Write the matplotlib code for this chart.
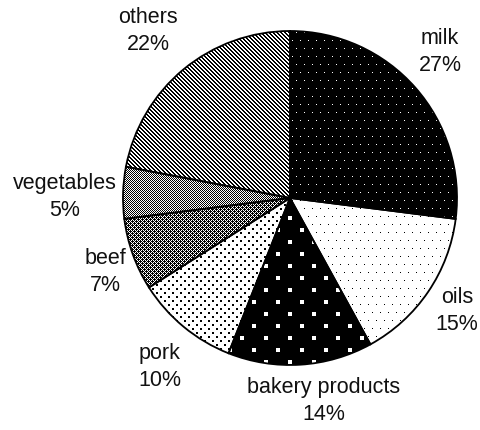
import numpy as np
import matplotlib.pyplot as plt

plt.rcParams['font.family'] = ['Liberation Sans', 'DejaVu Sans']

# share of each food group (%)
foods = ["milk", "oils", "bakery products", "pork", "beef", "vegetables", "others"]
shares = [27, 15, 14, 10, 7, 5, 22]

W, H = 480, 430
cx, cy, radius = 290, H - 198, 167

# label block centres, pixels from the top-left corner
label_xy = [(440, 52), (457, 311), (324, 401), (160, 367), (105, 272), (65, 197), (148, 31)]


def staggered(px, py, size):
    # square dots on a px-wide grid, every other row shifted by half a step
    t = np.zeros((2 * py, px), dtype=bool)
    t[:size, :size] = True
    t[py:py + size, px // 2:px // 2 + size] = True
    return t


# "\" lines, two pixels thick
diag = np.eye(4, dtype=bool) | np.roll(np.eye(4, dtype=bool), 1, axis=1)

light_check = np.array([[1, 0], [0, 1]], dtype=bool)
dark_check = np.array([[1, 0, 1, 0],
                       [1, 1, 0, 1],
                       [1, 0, 1, 0],
                       [0, 1, 1, 1]], dtype=bool)

# (tile, True = ink is black on white / False = white on black)
patterns = [
    (staggered(8, 8, 1), False),    # milk
    (staggered(8, 8, 1), True),     # oils
    (staggered(24, 12, 4), False),  # bakery products
    (staggered(8, 4, 2), True),     # pork
    (dark_check, True),             # beef
    (light_check, True),            # vegetables
    (diag, True),                   # others
]


def fill_image(tile, black_ink):
    reps = (H // tile.shape[0] + 1, W // tile.shape[1] + 1)
    mask = np.tile(tile, reps)[:H, :W]
    if not black_ink:
        mask = ~mask
    val = np.where(mask, 0, 255).astype(np.uint8)
    return np.dstack([val, val, val])


fig = plt.figure(figsize=(W / 100, H / 100), dpi=100)
ax = fig.add_axes([0, 0, 1, 1])

wedges, _ = ax.pie(shares, startangle=90, counterclock=False,
                   center=(cx, cy), radius=radius, frame=True,
                   wedgeprops=dict(facecolor='none', edgecolor='black',
                                   linewidth=1.3))
ax.set_xlim(0, W)
ax.set_ylim(0, H)
ax.axis('off')

# pixel-exact pattern fills under the axes, each clipped to its wedge
for w, (tile, black_ink) in zip(wedges, patterns):
    im = fig.figimage(fill_image(tile, black_ink), xo=0, yo=0,
                      origin='upper', zorder=-1)
    im.set_clip_path(w)

for food, share, (x, y) in zip(foods, shares, label_xy):
    ax.text(x, H - y, f"{food}\n{share}%", ha='center', va='center',
            fontsize=15.5, linespacing=1.4, color='#111111')

fig.savefig("out.png", dpi=100)
